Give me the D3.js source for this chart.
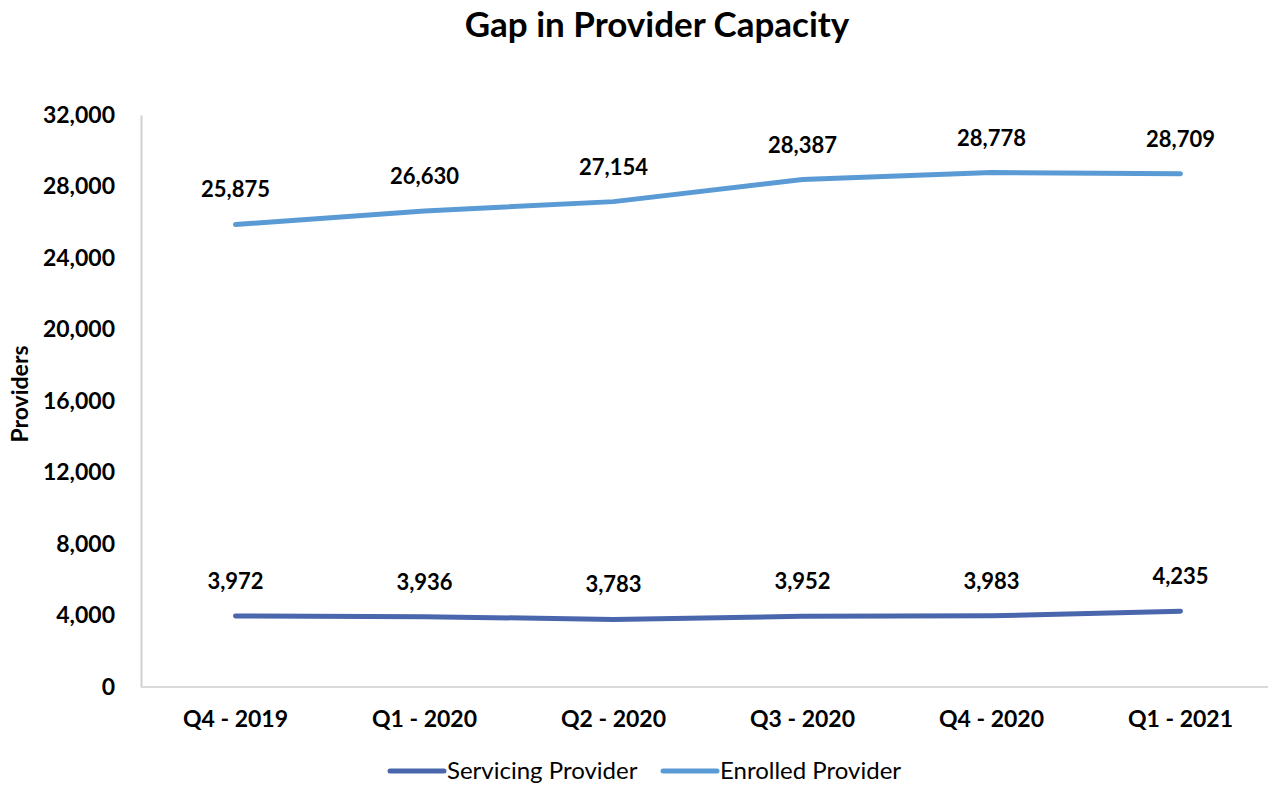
<!DOCTYPE html>
<html>
<head>
<meta charset="utf-8">
<script src="https://cdn.jsdelivr.net/npm/d3@7"></script>
<style>
  body { margin: 0; background: #fff; }
  text { font-family: Lato, "Open Sans", sans-serif; }
</style>
</head>
<body>
<script>
const quarters = ['Q4 - 2019', 'Q1 - 2020', 'Q2 - 2020', 'Q3 - 2020', 'Q4 - 2020', 'Q1 - 2021'];
const servicing = [3972, 3936, 3783, 3952, 3983, 4235];
const enrolled = [25875, 26630, 27154, 28387, 28778, 28709];
const yTicks = [0, 4000, 8000, 12000, 16000, 20000, 24000, 28000, 32000];

const svgWidth = 1270, svgHeight = 785;
const margin = { top: 115, right: 0, bottom: 98, left: 141 };
const width = 1275 - margin.left;
const height = svgHeight - margin.top - margin.bottom;

const svg = d3.select("body")
  .append("svg")
  .attr("width", svgWidth)
  .attr("height", svgHeight);

const g = svg.append("g")
  .attr("transform", `translate(${margin.left},${margin.top})`);

const x = d3.scaleBand()
  .domain(quarters)
  .range([0, width]);

const y = d3.scaleLinear()
  .domain([0, 32000])
  .range([height, 0]);

// title
svg.append("text")
  .attr("x", 657).attr("y", 37)
  .attr("text-anchor", "middle")
  .style("font-size", "35px").style("font-weight", "bold")
  .text("Gap in Provider Capacity");

// y axis
const yAxis = g.append("g")
  .call(d3.axisLeft(y).tickValues(yTicks).tickSize(0).tickPadding(26).tickFormat(d3.format(",")));
yAxis.select(".domain").attr("stroke", "#d0d0d0").attr("stroke-width", 2);
yAxis.selectAll("text").style("font-size", "23px").style("font-weight", "bold").attr("fill", "#000");

// x axis
const xAxis = g.append("g")
  .attr("transform", `translate(0,${height})`)
  .call(d3.axisBottom(x).tickSize(0).tickPadding(24));
xAxis.select(".domain").attr("stroke", "#d9d9d9").attr("stroke-width", 2).attr("d", `M0,0H${1268 - margin.left}`);
xAxis.selectAll("text").style("font-size", "23px").style("font-weight", "bold").attr("fill", "#000");

// y label
svg.append("text")
  .attr("transform", "translate(28,394) rotate(-90)")
  .attr("text-anchor", "middle")
  .style("font-size", "23px").style("font-weight", "bold")
  .text("Providers");

const series = [
  { name: "Servicing Provider", values: servicing, color: "#4A66AC" },
  { name: "Enrolled Provider", values: enrolled, color: "#5B9BD5" }
];

const line = d3.line()
  .x((d, i) => x(quarters[i]) + x.bandwidth() / 2)
  .y(d => y(d));

series.forEach(s => {
  g.append("path")
    .datum(s.values)
    .attr("fill", "none")
    .attr("stroke", s.color)
    .attr("stroke-width", 5)
    .attr("stroke-linecap", "round")
    .attr("stroke-linejoin", "round")
    .attr("d", line);

  g.selectAll(null)
    .data(s.values)
    .enter()
    .append("text")
    .attr("x", (d, i) => x(quarters[i]) + x.bandwidth() / 2)
    .attr("y", d => y(d) - 27)
    .attr("text-anchor", "middle")
    .style("font-size", "22px").style("font-weight", "bold")
    .text(d => d3.format(",")(d));
});

// legend
const legendPos = [390, 663];
series.forEach((s, i) => {
  const lg = svg.append("g").attr("transform", `translate(${legendPos[i]},771)`);
  lg.append("line")
    .attr("x1", 0).attr("x2", 54)
    .attr("stroke", s.color).attr("stroke-width", 5).attr("stroke-linecap", "round");
  lg.append("text")
    .attr("x", 57).attr("y", 8)
    .style("font-size", "24px")
    .text(s.name);
});
</script>
</body>
</html>
